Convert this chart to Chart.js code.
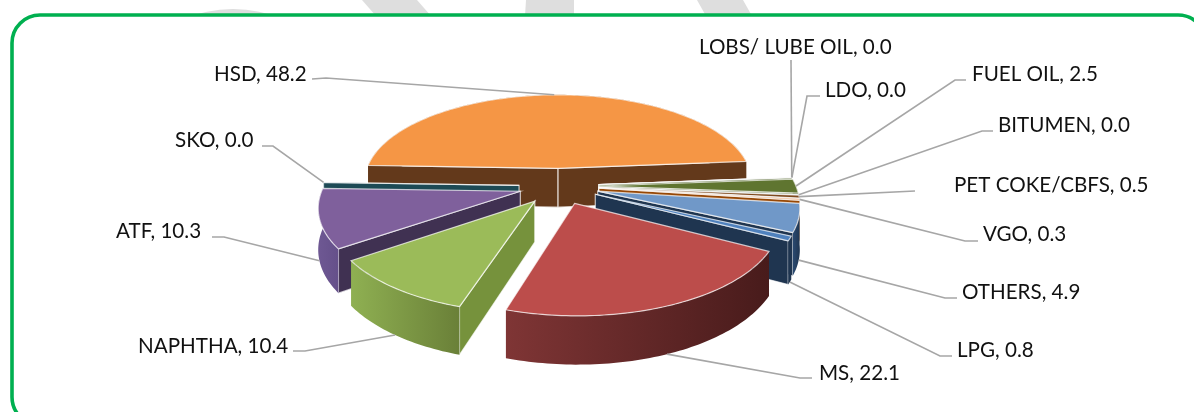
<!DOCTYPE html>
<html>
<head>
<meta charset="utf-8">
<script src="https://cdn.jsdelivr.net/npm/chart.js@4"></script>
<style>
  html, body { margin: 0; padding: 0; background: #fff; overflow: hidden; }
  canvas { display: block; }
</style>
</head>
<body>
<canvas id="productChart" width="1194" height="412"></canvas>
<script>
const categories = ['HSD', 'LOBS/ LUBE OIL', 'LDO', 'FUEL OIL', 'BITUMEN', 'PET COKE/CBFS', 'VGO', 'OTHERS', 'LPG', 'MS', 'NAPHTHA', 'ATF', 'SKO'];
// the 0.0 slices are still drawn as slivers, so they carry a tiny value
const shares = [48.2, 0.04, 0.03, 2.5, 0.04, 0.5, 0.3, 4.9, 0.8, 22.1, 10.4, 10.3, 0.04];

const topColors = ['#F59645', '#D7E4BD', '#E6E0EC', '#5F7530', '#31859C', '#7F4A1E', '#F2BE96', '#7098C8', '#4F81BD', '#BC4D4B', '#9BBB59', '#7F609C', '#215968'];
const cutColors = ['#63391B', '#4F6228', '#4F6228', '#4F6228', '#205867', '#5A3412', '#974806', '#1F3550', '#1F3550', '#4A1C1C', '#76923C', '#403152', '#1D4A55'];
const rimLeft = ['#63391B', '#4F6228', '#4F6228', '#4F6228', '#205867', '#5A3412', '#974806', '#2A4A72', '#1F3550', '#7F3535', '#8FB052', '#6E5893', '#215968'];
const rimRight = ['#63391B', '#4F6228', '#4F6228', '#4F6228', '#205867', '#5A3412', '#974806', '#1F3550', '#1F3550', '#481B1B', '#6A8038', '#65508A', '#215968'];

// text left/middle, then leader line points running from the label to the slice
const labelSpots = [
  { x: 214, y: 73, leader: [[312, 79], [326, 78]] },
  { x: 699, y: 46, leader: [[791, 60]] },
  { x: 825, y: 89, leader: [[820, 96], [807, 96]] },
  { x: 972, y: 73, leader: [[966, 80], [955, 80]] },
  { x: 998, y: 124, leader: [[993, 131], [982, 131]] },
  { x: 954, y: 184, leader: [[915, 191]] },
  { x: 983, y: 233, leader: [[978, 241], [965, 241]] },
  { x: 962, y: 291, leader: [[957, 298], [945, 298]] },
  { x: 957, y: 349, leader: [[952, 356], [940, 356]] },
  { x: 819, y: 372, leader: [[812, 378], [800, 378]] },
  { x: 138, y: 345, leader: [[293, 351], [305, 351]] },
  { x: 116, y: 230, leader: [[212, 237], [224, 237]] },
  { x: 175, y: 139, leader: [[262, 146], [273, 146]] }
];

const DEPTH = 1300;     // viewer distance, gives the near side its bigger scale
const TILT = 0.455;     // how flat the disc is seen
const THICKNESS = 40;
const EXPLODE = 40;

function project(px, py, z) {
  const f = DEPTH / (DEPTH - py);
  return { f: f, x: px * f, y: TILT * py * f + z * f };
}

function slicePoint(arc, angle, radius, z) {
  const mid = (arc.startAngle + arc.endAngle) / 2;
  const off = arc.options.offset;
  const p = project(
    Math.cos(mid) * off + Math.cos(angle) * radius,
    Math.sin(mid) * off + Math.sin(angle) * radius,
    z
  );
  return { x: arc.x + p.x, y: arc.y + p.y };
}

function rimPoints(arc, z) {
  const steps = Math.max(2, Math.ceil((arc.endAngle - arc.startAngle) / 0.02));
  const pts = [];
  for (let i = 0; i <= steps; i++) {
    const a = arc.startAngle + (arc.endAngle - arc.startAngle) * i / steps;
    pts.push(slicePoint(arc, a, arc.outerRadius, z));
  }
  return pts;
}

function fillPath(ctx, pts, fill, stroke) {
  ctx.beginPath();
  pts.forEach((p, i) => i ? ctx.lineTo(p.x, p.y) : ctx.moveTo(p.x, p.y));
  ctx.closePath();
  ctx.fillStyle = fill;
  ctx.fill();
  if (stroke) {
    ctx.strokeStyle = stroke;
    ctx.lineWidth = 1.2;
    ctx.stroke();
  }
}

const pie3d = {
  id: 'pie3d',
  beforeDraw(chart) {
    // faint watermark behind the card, only its top shows
    const ctx = chart.ctx;
    ctx.save();
    ctx.fillStyle = '#fff';
    ctx.fillRect(0, 0, chart.width, chart.height);
    ctx.fillStyle = '#DEDEDE';
    ctx.beginPath();
    ctx.ellipse(233, 45, 68, 36, 0, 0, Math.PI * 2);
    ctx.fill();
    [[362, 417, 431, 376], [526, 574, 574, 525], [697, 743, 752, 706]].forEach(s => {
      ctx.beginPath();
      ctx.moveTo(s[0], 0);
      ctx.lineTo(s[1], 0);
      ctx.lineTo(s[2], 16);
      ctx.lineTo(s[3], 16);
      ctx.closePath();
      ctx.fill();
    });
    ctx.fillStyle = '#fff';
    ctx.beginPath();
    ctx.roundRect(12, 15, 1194, 410, 28);
    ctx.fill();
    ctx.restore();
  },
  beforeDatasetsDraw(chart) {
    const ctx = chart.ctx;
    const arcs = chart.getDatasetMeta(0).data;
    const order = arcs.map((a, i) => i).sort((a, b) => {
      const ma = (arcs[a].startAngle + arcs[a].endAngle) / 2;
      const mb = (arcs[b].startAngle + arcs[b].endAngle) / 2;
      return Math.sin(ma) - Math.sin(mb);
    });
    const edge = 'rgba(255,255,255,0.7)';
    order.forEach(i => {
      const arc = arcs[i];
      const tip = slicePoint(arc, 0, 0, 0);
      const tipLow = slicePoint(arc, 0, 0, THICKNESS);
      const top = rimPoints(arc, 0);
      const low = rimPoints(arc, THICKNESS);
      const last = top.length - 1;

      // cut faces, only the ones turned to the viewer
      if (Math.cos(arc.startAngle) < 0) fillPath(ctx, [tip, top[0], low[0], tipLow], cutColors[i], edge);
      if (Math.cos(arc.endAngle) > 0) fillPath(ctx, [tip, top[last], low[last], tipLow], cutColors[i], edge);

      // outer wall
      const xs = low.map(p => p.x);
      const grad = ctx.createLinearGradient(Math.min(...xs), 0, Math.max(...xs), 0);
      grad.addColorStop(0, rimLeft[i]);
      grad.addColorStop(1, rimRight[i]);
      fillPath(ctx, top.concat(low.slice().reverse()), grad, null);

      // top face
      fillPath(ctx, [tip].concat(top), topColors[i], edge);
    });
    return false;
  },
  afterDraw(chart) {
    const ctx = chart.ctx;
    const arcs = chart.getDatasetMeta(0).data;
    ctx.save();
    ctx.font = '20.6px Lato, Carlito, sans-serif';
    ctx.textAlign = 'left';
    ctx.textBaseline = 'middle';
    arcs.forEach((arc, i) => {
      const spot = labelSpots[i];
      const mid = (arc.startAngle + arc.endAngle) / 2;
      // front slices take their line on the bottom of the wall
      const end = slicePoint(arc, mid, arc.outerRadius, Math.sin(mid) > 0.2 ? THICKNESS : 0);
      ctx.strokeStyle = '#A6A6A6';
      ctx.lineWidth = 1.6;
      ctx.beginPath();
      spot.leader.forEach((p, k) => k ? ctx.lineTo(p[0], p[1]) : ctx.moveTo(p[0], p[1]));
      ctx.lineTo(end.x, end.y);
      ctx.stroke();
      ctx.fillStyle = '#111';
      ctx.fillText(categories[i] + ', ' + shares[i].toFixed(1), spot.x, spot.y + 1);
    });
    // card border
    ctx.strokeStyle = '#00B050';
    ctx.lineWidth = 3.6;
    ctx.beginPath();
    ctx.roundRect(12, 15, 1194, 410, 28);
    ctx.stroke();
    ctx.restore();
  }
};

new Chart(document.getElementById('productChart'), {
  type: 'pie',
  data: {
    labels: categories,
    datasets: [{
      data: shares,
      backgroundColor: topColors,
      borderWidth: 0,
      offset: EXPLODE
    }]
  },
  options: {
    responsive: false,
    animation: false,
    rotation: -88,
    radius: 197,
    layout: { padding: { right: 76, bottom: 40 } },
    plugins: {
      legend: { display: false },
      tooltip: { enabled: false }
    }
  },
  plugins: [pie3d]
});
</script>
</body>
</html>
